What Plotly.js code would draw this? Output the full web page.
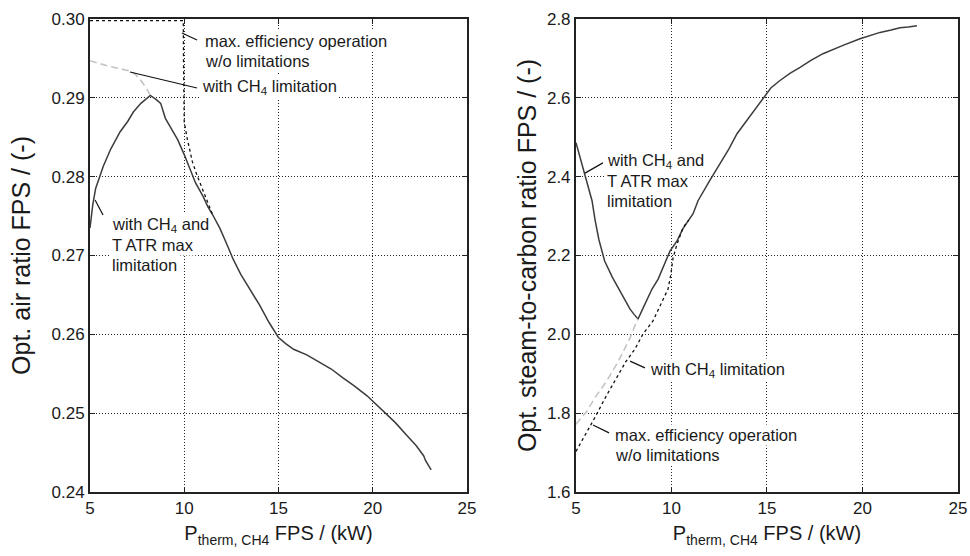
<!DOCTYPE html>
<html>
<head>
<meta charset="utf-8">
<script src="https://cdn.plot.ly/plotly-3.0.1.min.js"></script>
<style>
  html, body { margin: 0; padding: 0; background: #ffffff; }
  #chart { width: 970px; height: 556px; }
</style>
</head>
<body>
<div id="chart"></div>
<script>
// ---------- Data ----------
// Left panel: optimal air ratio FPS vs P_therm,CH4
const airSolidX = [5.0, 5.15, 5.3, 5.5, 5.7, 6.1, 6.6, 7.0, 7.3, 7.7, 8.2, 8.5, 8.75, 9.0, 9.3, 9.65, 10.0, 10.3, 10.6, 11.0, 11.25, 11.5, 11.9, 12.3, 12.6, 13.0, 13.5, 14.0, 14.5, 15.0, 15.4, 15.8, 16.5, 17.2, 17.8, 18.4, 19.0, 19.7, 20.2, 20.6, 21.2, 21.8, 22.3, 22.7, 22.8, 23.1];
const airSolidY = [0.2735, 0.2765, 0.2785, 0.2800, 0.2813, 0.2835, 0.2857, 0.2870, 0.2882, 0.2893, 0.2903, 0.2898, 0.2893, 0.2874, 0.2862, 0.2847, 0.2828, 0.2810, 0.2792, 0.2775, 0.2762, 0.2752, 0.2734, 0.2712, 0.2695, 0.2676, 0.2657, 0.2637, 0.2615, 0.2596, 0.2588, 0.2581, 0.2574, 0.2564, 0.2556, 0.2545, 0.2535, 0.2522, 0.2511, 0.2501, 0.2488, 0.2472, 0.2459, 0.2446, 0.2440, 0.2428];

const airCH4X = [5.0, 5.5, 6.0, 6.6, 7.1, 7.4, 7.7, 8.0, 8.2];
const airCH4Y = [0.2947, 0.2943, 0.2940, 0.2937, 0.2934, 0.2930, 0.2922, 0.2912, 0.2903];

const airMaxX = [5.0, 9.95, 9.96, 9.98, 10.0, 10.16, 10.43, 10.69, 11.12, 11.28, 11.5];
const airMaxY = [0.2998, 0.2998, 0.2950, 0.2911, 0.2869, 0.2848, 0.2819, 0.2801, 0.2775, 0.2763, 0.2752];

// Right panel: optimal steam-to-carbon ratio FPS vs P_therm,CH4
const scSolidX = [5.0, 5.2, 5.47, 5.65, 5.84, 6.0, 6.2, 6.5, 6.9, 7.3, 7.6, 7.83, 8.05, 8.25, 8.45, 8.61, 8.98, 9.3, 9.55, 9.92, 10.29, 10.6, 11.13, 11.39, 12.0, 12.54, 13.0, 13.43, 14.2, 14.79, 15.2, 15.68, 16.2, 16.73, 17.3, 17.93, 18.5, 18.98, 19.87, 20.4, 20.92, 21.5, 21.96, 22.4, 22.85];
const scSolidY = [2.486, 2.45, 2.407, 2.37, 2.339, 2.29, 2.24, 2.186, 2.145, 2.110, 2.085, 2.064, 2.05, 2.039, 2.06, 2.077, 2.115, 2.14, 2.168, 2.211, 2.237, 2.268, 2.306, 2.339, 2.39, 2.432, 2.47, 2.509, 2.559, 2.60, 2.625, 2.644, 2.662, 2.677, 2.695, 2.712, 2.724, 2.733, 2.750, 2.758, 2.766, 2.772, 2.778, 2.780, 2.783];

const scCH4X = [5.0, 5.57, 6.0, 6.6, 7.2, 7.83, 8.19, 8.25];
const scCH4Y = [1.772, 1.805, 1.84, 1.881, 1.93, 1.991, 2.034, 2.039];

const scMaxX = [5.0, 5.5, 6.0, 6.6, 7.2, 7.6, 8.09, 8.51, 9.03, 9.55, 9.82, 9.97, 10.08, 10.29, 10.6, 10.9];
const scMaxY = [1.703, 1.745, 1.79, 1.845, 1.895, 1.93, 1.963, 2.001, 2.034, 2.085, 2.115, 2.153, 2.194, 2.229, 2.27, 2.29];

// Axis ticks
const xTicks = [5, 10, 15, 20, 25];
const airTicks = [0.24, 0.25, 0.26, 0.27, 0.28, 0.29, 0.30];
const scTicks = [1.6, 1.8, 2.0, 2.2, 2.4, 2.6, 2.8];

// Label texts
const xTitle = 'P<sub>therm, CH4</sub> FPS / (kW)';
const airTitle = 'Opt. air ratio FPS / (-)';
const scTitle = 'Opt. steam-to-carbon ratio FPS / (-)';
const lblMax = ['max. efficiency operation', 'w/o limitations'];
const lblCH4 = ['with CH<sub>4</sub> limitation'];
const lblTatr = ['with CH<sub>4</sub> and', 'T ATR max', 'limitation'];

// ---------- Styling / layout ----------
const FONT = 'Liberation Sans, Arial, Helvetica, sans-serif';
const TXT = '#1a1a1a';
const solidStyle = {color: '#3c3c3c', width: 1.5};
const grayStyle = {color: '#c4c4c4', width: 1.6, dash: '7px,4px'};
const maxStyle = {color: '#111111', width: 1.3, dash: '3px,3px'};

const traces = [
  {x: airSolidX, y: airSolidY, xaxis: 'x', yaxis: 'y', mode: 'lines', line: solidStyle},
  {x: airCH4X, y: airCH4Y, xaxis: 'x', yaxis: 'y', mode: 'lines', line: grayStyle},
  {x: airMaxX, y: airMaxY, xaxis: 'x', yaxis: 'y', mode: 'lines', line: maxStyle},
  {x: scSolidX, y: scSolidY, xaxis: 'x2', yaxis: 'y2', mode: 'lines', line: solidStyle},
  {x: scCH4X, y: scCH4Y, xaxis: 'x2', yaxis: 'y2', mode: 'lines', line: grayStyle},
  {x: scMaxX, y: scMaxY, xaxis: 'x2', yaxis: 'y2', mode: 'lines', line: maxStyle}
];

function axisBase() {
  return {
    showline: true, linecolor: '#222', linewidth: 2, mirror: 'ticks',
    ticks: 'inside', ticklen: 5, tickwidth: 1, tickcolor: '#222',
    showgrid: true, gridcolor: '#222', gridwidth: 1, griddash: '1px,2px',
    zeroline: false, fixedrange: true,
    tickfont: {family: FONT, size: 17, color: TXT}
  };
}

const xa = Object.assign(axisBase(), {
  domain: [0, 0.4343], range: [5, 25], tickmode: 'array', tickvals: xTicks,
  title: {text: xTitle, font: {family: FONT, size: 20, color: TXT}, standoff: 9}, anchor: 'y'
});
const xa2 = Object.assign(axisBase(), {
  domain: [0.5599, 1], range: [5, 25], tickmode: 'array', tickvals: xTicks,
  title: {text: xTitle, font: {family: FONT, size: 20, color: TXT}, standoff: 9}, anchor: 'y2'
});
const ya = Object.assign(axisBase(), {
  domain: [0, 1], range: [0.24, 0.30], tickmode: 'array', tickvals: airTicks, tickformat: '.2f',
  title: {text: airTitle, font: {family: FONT, size: 25, color: TXT}, standoff: 14}, anchor: 'x'
});
const ya2 = Object.assign(axisBase(), {
  domain: [0, 1], range: [1.6, 2.8], tickmode: 'array', tickvals: scTicks, tickformat: '.1f',
  title: {text: scTitle, font: {family: FONT, size: 25, color: TXT}, standoff: 3}, anchor: 'x2'
});

// label placement: lines stacked 20px apart starting at (x, y)
function labelLines(lines, x, y, ax) {
  return lines.map((t, i) => ({
    xref: 'x' + ax, yref: 'y' + ax, x: x, y: y, xanchor: 'left', yanchor: 'middle',
    yshift: -20 * i, text: t, showarrow: false, bgcolor: '#ffffff', borderpad: 1,
    font: {family: FONT, size: 16.5, color: TXT}
  }));
}
const annotations = [].concat(
  labelLines(lblMax, 11.0, 0.29721, ''),
  labelLines(lblCH4, 10.84, 0.29137, ''),
  labelLines(lblTatr, 6.06, 0.27387, ''),
  labelLines(lblTatr, 6.52, 2.4398, '2'),
  labelLines(lblCH4, 8.77, 1.9096, '2'),
  labelLines(lblMax, 6.94, 1.7447, '2')
);

function leader(ax, x0, y0, x1, y1) {
  return {type: 'line', xref: 'x' + ax, yref: 'y' + ax, x0: x0, y0: y0, x1: x1, y1: y1,
          line: {color: '#111', width: 1.2}};
}
const shapes = [
  leader('', 9.88, 0.29822, 10.68, 0.29734),
  leader('', 7.12, 0.29328, 10.68, 0.29125),
  leader('', 5.27, 0.27704, 5.69, 0.27514),
  leader('2', 5.47, 2.409, 6.41, 2.435),
  leader('2', 7.83, 1.932, 8.61, 1.915),
  leader('2', 5.89, 1.770, 6.73, 1.750)
];

const layout = {
  width: 970, height: 556,
  margin: {l: 90, r: 12, t: 19, b: 64},
  paper_bgcolor: '#ffffff', plot_bgcolor: '#ffffff',
  showlegend: false,
  font: {family: FONT, color: TXT},
  xaxis: xa, yaxis: ya, xaxis2: xa2, yaxis2: ya2,
  annotations: annotations,
  shapes: shapes
};

Plotly.newPlot('chart', traces, layout, {staticPlot: true, displayModeBar: false});
</script>
</body>
</html>
